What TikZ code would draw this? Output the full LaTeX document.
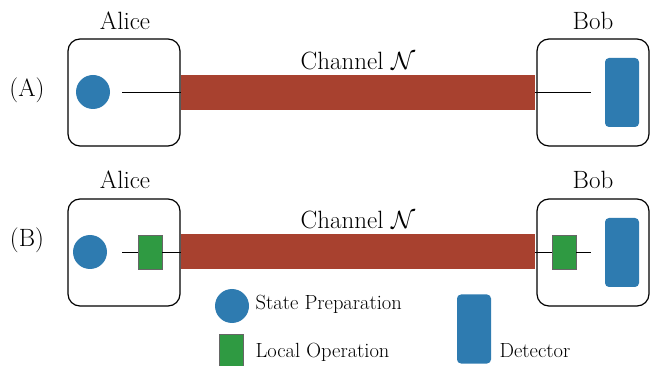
\documentclass[tikz,border=0pt]{standalone}
\usepackage{amsmath}
\usepackage{amssymb}
\usepackage{tikz}
\usetikzlibrary{positioning}
\definecolor{chanRed}{HTML}{A8412F}
\definecolor{stateBlue}{HTML}{2E7BB0}
\definecolor{opGreen}{HTML}{2F9A42}
\newcommand{\bigtext}{\fontsize{25}{30}\selectfont}
\newcommand{\smalltext}{\fontsize{20.5}{24}\selectfont}

\begin{document}
\begin{tikzpicture}[x=1pt, y=-1pt, semithick]
        \tikzset{
           party/.style={
                        rectangle,
                        rounded corners=12pt,
                        draw=black,
                        line width=1.2pt,
                        fill=none,
                        inner sep=0pt,
                        minimum width=112pt,
                        minimum height=107pt
                       },
           channel/.style={
                        rectangle,
                        draw=none,
                        fill=chanRed,
                        inner sep=0pt,
                        minimum width=354pt,
                        minimum height=35pt
                       },
           state/.style={
                        circle,
                        draw=none,
                        fill=stateBlue,
                        inner sep=0pt,
                        minimum size=34pt
                       },
           localOp/.style={
                        rectangle,
                        draw=black!60,
                        thin,
                        fill=opGreen,
                        inner sep=0pt,
                        minimum width=24pt,
                        minimum height=34pt
                       },
           detector/.style={
                        rectangle,
                        rounded corners=4pt,
                        draw=none,
                        fill=stateBlue,
                        inner sep=0pt,
                        minimum width=34pt,
                        minimum height=69pt
                       },
           title/.style={
                        font=\bigtext,
                        text=black
                       },
           legend/.style={
                        font=\smalltext,
                        text=black,
                        anchor=west
                       },
           wire/.style={
                        draw=black,
                        thin
                       },
                 };
        \useasboundingbox (0,0) rectangle (651,366);
    %-------------------- (A)
        \node[title]    (labelA)    at (27,90)    {(A)};
        \node[title]    (aliceA)    at (125,21)   {Alice};
        \node[title]    (bobA)      at (593,21)   {Bob};
        \node[party]    (aliceBoxA) at (124,92.5) {};
        \node[party]    (bobBoxA)   at (593,92.5) {};
        \node[channel]  (chanA)     at (358,92.5) {};
        \node[title]    (chanTextA) at (358,61)   {Channel $\mathcal{N}$};
        \node[state]    (stateA)    at (93,92)    {};
        \node[detector] (detA)      at (622,92.5) {};
        \coordinate     (aliceEndA) at (122,92.5);
        \coordinate     (bobEndA)   at (591,92.5);
    %-------------------- (B)
        \node[title]    (labelB)    at (27,240)   {(B)};
        \node[title]    (aliceB)    at (125,180)  {Alice};
        \node[title]    (bobB)      at (593,180)  {Bob};
        \node[party]    (aliceBoxB) at (124,252.5) {};
        \node[party]    (bobBoxB)   at (593,252.5) {};
        \node[channel]  (chanB)     at (358,252)  {};
        \node[title]    (chanTextB) at (358,220)  {Channel $\mathcal{N}$};
        \node[state]    (stateB)    at (90,252)   {};
        \node[localOp]  (opAliceB)  at (150,252)  {};
        \node[localOp]  (opBobB)    at (564,252)  {};
        \node[detector] (detB)      at (622,252.5) {};
        \coordinate     (aliceEndB) at (122,252);
        \coordinate     (bobEndB)   at (591,252);
    %-------------------- legend
        \node[state]    (keyState)  at (232,306)  {};
        \node[legend]   (txtState)  at (252,304)  {State Preparation};
        \node[localOp]  (keyOp)     at (231.5,351) {};
        \node[legend]   (txtOp)     at (252,352)  {Local Operation};
        \node[detector] (keyDet)    at (474,329)  {};
        \node[legend]   (txtDet)    at (496,351)  {Detector};
    %--------------------
        \path[wire] (aliceEndA) edge (chanA.west)
                    (chanA.east) edge (bobEndA)

                    (aliceEndB) edge (opAliceB.west)
                    (opAliceB.east) edge (chanB.west)
                    (chanB.east) edge (opBobB.west)
                    (opBobB.east) edge (bobEndB);
    \end{tikzpicture}
\end{document}
